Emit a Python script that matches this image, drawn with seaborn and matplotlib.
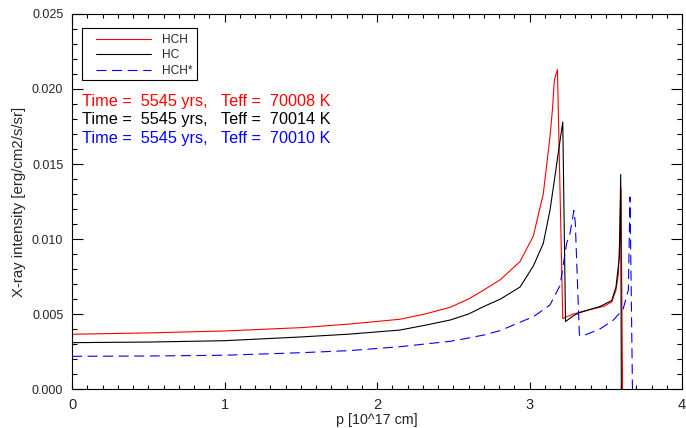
import matplotlib
matplotlib.use("Agg")
import matplotlib.pyplot as plt
from matplotlib.ticker import MultipleLocator, FormatStrFormatter
from matplotlib.patches import Rectangle
import seaborn as sns

# 곡선 값
p_hch = [0.0, 0.5, 1.0, 1.5, 1.82, 2.15, 2.315, 2.48, 2.6, 2.7, 2.81, 2.938, 3.025, 3.09,
         3.134, 3.15, 3.163, 3.183, 3.218, 3.287, 3.397, 3.484, 3.539, 3.567, 3.583, 3.594,
         3.600, 3.61]
v_hch = [0.00365, 0.00374, 0.00387, 0.00409, 0.00433, 0.00465, 0.0050, 0.00545, 0.0060,
         0.0066, 0.0073, 0.0085, 0.0102, 0.0130, 0.0168, 0.0186, 0.0206, 0.0213, 0.0047,
         0.0050, 0.0053, 0.0055, 0.0058, 0.0066, 0.0077, 0.0108, 0.0134, 0.0]

p_hc = [0.0, 0.5, 1.0, 1.5, 1.82, 2.15, 2.315, 2.48, 2.6, 2.7, 2.81, 2.938, 3.025, 3.09,
        3.134, 3.167, 3.195, 3.218, 3.236, 3.29, 3.331, 3.462, 3.539, 3.567, 3.589, 3.598,
        3.602]
v_hc = [0.00309, 0.00313, 0.00322, 0.00347, 0.00366, 0.00393, 0.00425, 0.0046, 0.0050,
        0.0055, 0.0060, 0.0068, 0.0082, 0.0097, 0.0119, 0.0142, 0.0162, 0.0178, 0.0045,
        0.0049, 0.0051, 0.0055, 0.0059, 0.0068, 0.0088, 0.0143, 0.0]

p_hchs = [0.0, 0.5, 1.0, 1.5, 1.82, 2.15, 2.315, 2.48, 2.6, 2.7, 2.81, 2.92, 3.025, 3.134,
          3.2, 3.243, 3.266, 3.291, 3.30, 3.327, 3.34, 3.462, 3.55, 3.613, 3.648, 3.659,
          3.675]
v_hchs = [0.00218, 0.00220, 0.00225, 0.00242, 0.00256, 0.00282, 0.00300, 0.00318, 0.0034,
          0.0036, 0.0039, 0.00438, 0.00482, 0.0056, 0.0069, 0.0097, 0.0104, 0.0119, 0.0111,
          0.0036, 0.0035, 0.0040, 0.0046, 0.0053, 0.0066, 0.0128, 0.0]

labels = ["HCH", "HC", "HCH*"]
info_lines = ["Time =  5545 yrs,   Teff =  70008 K",
              "Time =  5545 yrs,   Teff =  70014 K",
              "Time =  5545 yrs,   Teff =  70010 K"]

sns.set_style("ticks")
plt.rcParams['font.family'] = ['Liberation Sans', 'DejaVu Sans']

fig = plt.figure(figsize=(6.86, 4.28), dpi=100)
ax = fig.add_axes([0.105, 0.0911, 0.8892, 0.8762])

sns.lineplot(x=p_hch, y=v_hch, color='red', lw=0.8, sort=False, estimator=None,
             label=labels[0], ax=ax)
sns.lineplot(x=p_hc, y=v_hc, color='black', lw=0.8, sort=False, estimator=None,
             label=labels[1], ax=ax)
sns.lineplot(x=p_hchs, y=v_hchs, color='blue', lw=0.8, sort=False, estimator=None,
             linestyle=(0, (9, 5)), label=labels[2], ax=ax)

ax.set_xlim(0, 4)
ax.set_ylim(0, 0.025)
ax.xaxis.set_major_locator(MultipleLocator(1))
ax.xaxis.set_minor_locator(MultipleLocator(0.1))
ax.yaxis.set_major_locator(MultipleLocator(0.005))
ax.yaxis.set_minor_locator(MultipleLocator(0.001))
ax.xaxis.set_major_formatter(FormatStrFormatter('%d'))
ax.yaxis.set_major_formatter(FormatStrFormatter('%.3f'))

for s in ax.spines.values():
    s.set_linewidth(0.8)
    s.set_color('black')
ax.tick_params(which='both', direction='in', top=True, right=True, width=0.8, color='black')
ax.tick_params(axis='x', which='major', length=5.4, labelsize=10.5, pad=6.5)
ax.tick_params(axis='x', which='minor', length=2.7)
ax.tick_params(axis='y', which='major', length=8, labelsize=9, pad=6.3)
ax.tick_params(axis='y', which='minor', length=3.8)

ax.set_xlabel("p [10^17 cm]", fontsize=10.3, labelpad=1)
ax.set_ylabel("X-ray intensity [erg/cm2/s/sr]", fontsize=10.8, labelpad=4.5)

# 범례
ax.legend(loc='upper left', bbox_to_anchor=(0.0393, 0.947), borderaxespad=0,
          borderpad=0, frameon=False, fontsize=8.6, handlelength=4.6,
          handletextpad=0.9, labelspacing=0.3)
ax.add_patch(Rectangle((0.0159, 0.824), 0.1885, 0.1379, transform=ax.transAxes,
                       fill=False, ec='black', lw=0.8, zorder=5))

# 시간 / Teff 표시
for txt, col, yy in zip(info_lines, ['red', 'black', 'blue'], [0.7547, 0.7067, 0.6568]):
    ax.text(0.0159, yy, txt, color=col, fontsize=11.7, transform=ax.transAxes,
            ha='left', va='baseline')

fig.savefig("out.png", dpi=100)
